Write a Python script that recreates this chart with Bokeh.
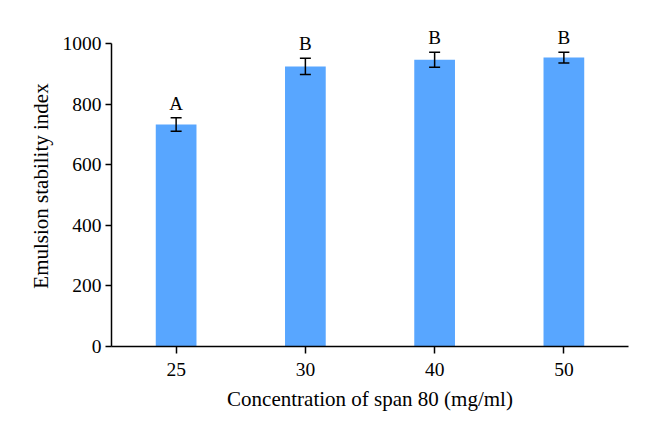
from bokeh.plotting import figure
from bokeh.models import ColumnDataSource, Whisker, TeeHead, FactorRange, Range1d
from bokeh.core.properties import value
from bokeh.embed import file_html
from bokeh.resources import INLINE

categories = ["25", "30", "40", "50"]
means = [733, 925, 947, 954]
errors = [22, 27, 25, 18]
letters = ["A", "B", "B", "B"]
y_ticks = [0, 200, 400, 600, 800, 1000]

FONT = "Liberation Serif"

upper = [m + e for m, e in zip(means, errors)]
lower = [m - e for m, e in zip(means, errors)]
src = ColumnDataSource(dict(x=categories, top=means, upper=upper, lower=lower, lab=letters))

p = figure(width=652, height=438, x_range=FactorRange(*categories), y_range=Range1d(0, 1060),
           output_backend="svg", toolbar_location=None,
           min_border_left=111, min_border_right=24, min_border_top=25, min_border_bottom=92)

p.vbar(x="x", top="top", width=0.315, source=src, fill_color="#58a6ff", line_color=None)

w = Whisker(base="x", upper="upper", lower="lower", source=src, line_color="black", line_width=1.5,
            level="overlay",
            upper_head=TeeHead(size=11, line_color="black", line_width=1.5),
            lower_head=TeeHead(size=11, line_color="black", line_width=1.5))
p.add_layout(w)

p.text(x="x", y="upper", text="lab", source=src, text_align="center", text_baseline="bottom",
       y_offset=-4, text_font=value(FONT), text_font_size="19px", text_color="black")

p.xgrid.visible = False
p.ygrid.visible = False
p.outline_line_color = None

for ax in (p.xaxis, p.yaxis):
    ax.axis_line_color = "black"
    ax.axis_line_width = 1.5
    ax.major_tick_line_color = "black"
    ax.major_tick_line_width = 1.5
    ax.major_tick_in = 0
    ax.minor_tick_line_color = None
    ax.major_label_text_font = FONT
    ax.major_label_text_font_size = "19.5px"
    ax.major_label_text_color = "black"
    ax.axis_label_text_font = FONT
    ax.axis_label_text_font_size = "21px"
    ax.axis_label_text_font_style = "normal"
    ax.axis_label_text_color = "black"

p.yaxis.ticker = y_ticks
p.yaxis.bounds = (0, 1000)
p.yaxis.major_tick_out = 6
p.xaxis.major_tick_out = 7
p.yaxis.major_label_standoff = 4
p.xaxis.major_label_standoff = 9
p.xaxis.axis_label = "Concentration of span 80 (mg/ml)"
p.yaxis.axis_label = "Emulsion stability index"
p.xaxis.axis_label_standoff = 8
p.yaxis.axis_label_standoff = 7

open("out.html", "w").write(file_html(p, INLINE))
